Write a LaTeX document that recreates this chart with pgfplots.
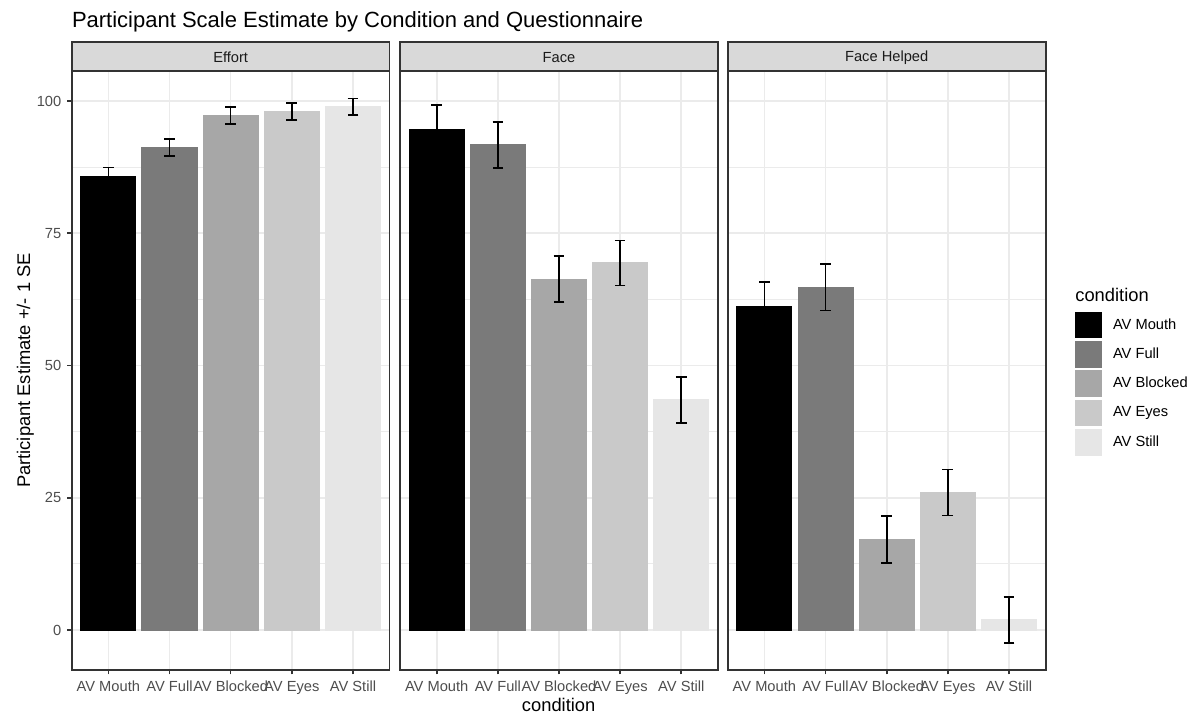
\documentclass[border=0pt]{standalone}
\usepackage{fontspec}
\setmainfont{Liberation Sans}
\usepackage{pgfplots}
\pgfplotsset{compat=1.18}
\definecolor{cA}{HTML}{000000}
\definecolor{cB}{HTML}{7A7A7A}
\definecolor{cC}{HTML}{A7A7A7}
\definecolor{cD}{HTML}{C9C9C9}
\definecolor{cE}{HTML}{E6E6E6}
\definecolor{gridc}{HTML}{EBEBEB}
\definecolor{framec}{HTML}{333333}
\definecolor{stripc}{HTML}{D9D9D9}
\definecolor{tickc}{HTML}{4D4D4D}
\definecolor{stript}{HTML}{1A1A1A}
\pgfplotsset{
  panel/.style={
    scale only axis, width=190.8pt, height=359.4pt, anchor=south west,
    xmin=0.4, xmax=5.6, ymin=-7.56, ymax=105.67,
    xtick={1,2,3,4,5},
    xticklabels={AV Mouth,AV Full,AV Blocked,AV Eyes,AV Still},
    ytick={0,25,50,75,100}, minor ytick={12.5,37.5,62.5,87.5},
    xmajorgrids, ymajorgrids, yminorgrids,
    major grid style={draw=gridc, line width=1pt},
    minor grid style={draw=gridc, line width=0.5pt},
    tick align=outside, tick pos=left,
    major tick length=2.7pt, minor tick length=0pt,
    tick style={draw=framec, line width=1pt},
    axis line style={draw=framec, line width=1pt},
    ticklabel style={font=\fontsize{8.8}{10}\selectfont, text=tickc},
    xticklabel style={text height=6.5pt, text depth=1.9pt},
    /pgf/number format/assume math mode=true,
    clip=false,
  },
  bb/.style={ybar, bar width=0.9, bar shift=0pt, fill=#1, draw=#1, line width=0pt},
  eb/.style={forget plot, color=black, mark=none, draw=none,
    error bars/.cd, y dir=both, y explicit,
    error bar style={color=black, draw=black, line width=1pt, solid},
    error mark=-,
    error mark options={rotate=90, color=black, draw=black, mark size=3.2pt, line width=1pt, solid}},
}
\newcommand{\strip}[1]{%
  \draw[fill=stripc, draw=framec, line width=1pt] (rel axis cs:0,1) rectangle ([yshift=17.2pt]rel axis cs:1,1);
  \node[font=\fontsize{8.8}{10}\selectfont, text=stript] at ([yshift=8.2pt]rel axis cs:0.5,1) {#1};}
\begin{document}
\begin{tikzpicture}
\useasboundingbox (0,0) rectangle (720pt,430.2pt);
% Effort
\begin{axis}[panel, at={(43pt,28.2pt)}]
\addplot[bb=cA] coordinates {(1,85.7)};
\addplot[bb=cB] coordinates {(2,91.2)};
\addplot[bb=cC] coordinates {(3,97.3)};
\addplot[bb=cD] coordinates {(4,98.0)};
\addplot[bb=cE] coordinates {(5,98.9)};
\addplot[eb] coordinates {(1,85.7) +- (0,1.7) (2,91.2) +- (0,1.6) (3,97.3) +- (0,1.6) (4,98.0) +- (0,1.6) (5,98.9) +- (0,1.6)};
\strip{Effort}
\end{axis}
% Face
\begin{axis}[panel, at={(240pt,28.2pt)}, yticklabels={}, ytick style={draw=none}]
\addplot[bb=cA] coordinates {(1,94.6)};
\addplot[bb=cB] coordinates {(2,91.7)};
\addplot[bb=cC] coordinates {(3,66.3)};
\addplot[bb=cD] coordinates {(4,69.4)};
\addplot[bb=cE] coordinates {(5,43.5)};
\addplot[eb] coordinates {(1,94.6) +- (0,4.6) (2,91.7) +- (0,4.35) (3,66.3) +- (0,4.35) (4,69.4) +- (0,4.25) (5,43.5) +- (0,4.35)};
\strip{Face}
\end{axis}
% Face Helped
\begin{axis}[panel, at={(436.6pt,28.2pt)}, yticklabels={}, ytick style={draw=none},
  legend style={draw=none, fill=none, at={(axis description cs:1,0.5)}, anchor=west,
    xshift=17.6pt, yshift=-7.9pt, font=\fontsize{8.8}{10}\selectfont,
    row sep=1.6pt, inner sep=0pt, nodes={inner sep=0pt, anchor=west},
    /tikz/every odd column/.append style={column sep=6.6pt}},
  legend cell align=left,
  legend image code/.code={\fill[#1, draw=none] (0pt,-8pt) rectangle (16pt,8pt);}]
\addplot[bb=cA] coordinates {(1,61.2)};
\addlegendentry{AV Mouth}
\addplot[bb=cB] coordinates {(2,64.8)};
\addlegendentry{AV Full}
\addplot[bb=cC] coordinates {(3,17.1)};
\addlegendentry{AV Blocked}
\addplot[bb=cD] coordinates {(4,26.0)};
\addlegendentry{AV Eyes}
\addplot[bb=cE] coordinates {(5,1.9)};
\addlegendentry{AV Still}
\addplot[eb] coordinates {(1,61.2) +- (0,4.6) (2,64.8) +- (0,4.4) (3,17.1) +- (0,4.45) (4,26.0) +- (0,4.35) (5,1.9) +- (0,4.4)};
\strip{Face Helped}
\end{axis}
\node[inner sep=0pt, anchor=base west, font=\fontsize{13.2}{15}\selectfont] at (43pt,413.4pt) {Participant Scale Estimate by Condition and Questionnaire};
\node[rotate=90, font=\fontsize{11}{13}\selectfont] at (15.2pt,207.9pt) {Participant Estimate +/- 1 SE};
\node[anchor=base, font=\fontsize{11}{13}\selectfont] at (335.2pt,3pt) {condition};
\node[inner sep=0pt, anchor=base west, font=\fontsize{11}{13}\selectfont] at (645pt,249.2pt) {condition};
\end{tikzpicture}
\end{document}
